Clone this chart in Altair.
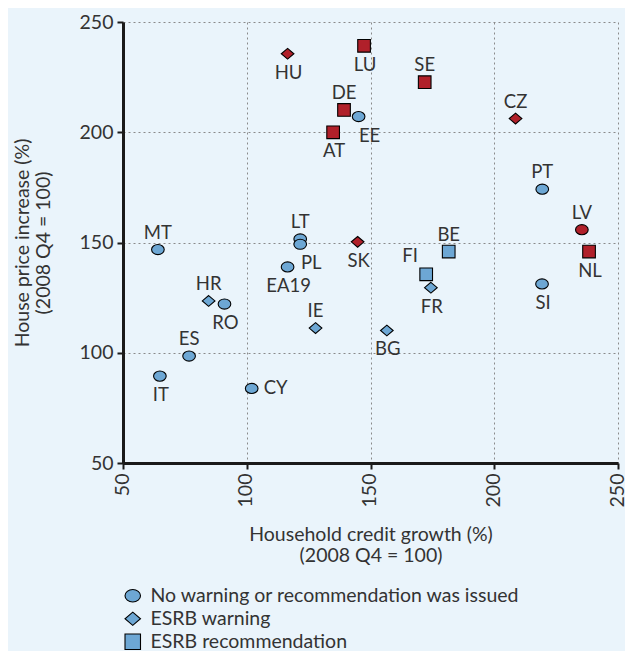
import altair as alt
import pandas as pd

countries = ["HU", "LU", "DE", "EE", "AT", "SE", "CZ", "PT", "LV", "NL", "SI", "BE", "FI",
             "FR", "SK", "LT", "PL", "EA19", "MT", "HR", "RO", "IE", "BG", "ES", "IT", "CY"]
credit_growth = [116.5, 147.4, 139.3, 145.2, 134.9, 171.9, 208.6, 219.4, 235.4, 238.3, 219.3, 181.6, 172.5,
                 174.4, 144.8, 121.6, 121.6, 116.5, 64.1, 84.6, 91.0, 127.8, 156.6, 76.7, 64.9, 102.0]
price_increase = [235.6, 239.2, 210.1, 207.1, 200.0, 222.7, 206.2, 174.2, 155.8, 145.9, 131.2, 145.9, 135.6,
                  129.5, 150.3, 151.6, 149.2, 138.9, 146.8, 123.5, 122.1, 111.2, 110.1, 98.5, 89.4, 83.8]
N = "No warning or recommendation was issued"
W = "ESRB warning"
R = "ESRB recommendation"
status = [W, R, R, N, R, R, W, N, N, R, N, R, R,
          W, W, N, N, N, N, W, N, W, W, N, N, N]
highlight = ["red", "red", "red", "blue", "red", "red", "red", "blue", "red", "red", "blue", "blue", "blue",
             "blue", "red", "blue", "blue", "blue", "blue", "blue", "blue", "blue", "blue", "blue", "blue", "blue"]
label_side = ["below", "below", "above", "below_right", "below", "above", "above", "above", "above", "below",
              "below", "above", "above_left", "below", "below", "above", "below_right", "below", "above",
              "above", "below", "above", "below", "above", "below", "right"]

df = pd.DataFrame({
    "country": countries,
    "credit": credit_growth,
    "price": price_increase,
    "status": status,
    "hl": highlight,
    "side": label_side,
})

FONT = "Lato"
TXT = "#333333"
BLUE = "#6DA7D4"
RED = "#B0202A"
BG = "#EAF4FB"
FS_AX = 19.5
FS_LB = 18.5

ellipse = "M-1,0 A1,0.8 0 1,0 1,0 A1,0.8 0 1,0 -1,0 Z"
diamond = "M0,-0.85 L1,0 L0,0.85 L-1,0 Z"
square = "M-1,-1 L1,-1 L1,1 L-1,1 Z"

xs = alt.Scale(domain=[50, 250], nice=False, zero=False)
ys = alt.Scale(domain=[50, 250], nice=False, zero=False)

base = alt.Chart(df)

points = base.mark_point(filled=True, stroke="black", strokeWidth=1.1, opacity=1, size=160).encode(
    x=alt.X("credit:Q", scale=xs,
            axis=alt.Axis(values=[50, 100, 150, 200, 250], labelAngle=270, labelAlign="right",
                          labelBaseline="middle", labelPadding=4, labelOffset=-1,
                          title=["Household credit growth (%)", "(2008 Q4 = 100)"],
                          titlePadding=19)),
    y=alt.Y("price:Q", scale=ys,
            axis=alt.Axis(values=[50, 100, 150, 200, 250], labelPadding=4,
                          title=["House price increase (%)", "(2008 Q4 = 100)"],
                          titlePadding=26)),
    fill=alt.Fill("hl:N", scale=alt.Scale(domain=["blue", "red"], range=[BLUE, RED]), legend=None),
    shape=alt.Shape("status:N",
                    scale=alt.Scale(domain=[N, W, R], range=[ellipse, diamond, square]),
                    legend=alt.Legend(title=None, orient="none", legendX=0, legendY=564,
                                      symbolFillColor=BLUE, symbolStrokeColor="black",
                                      symbolStrokeWidth=1.1, symbolSize=240, symbolOpacity=1,
                                      labelFont=FONT, labelFontSize=FS_AX, labelColor=TXT,
                                      labelLimit=0, rowPadding=2, padding=0, labelOffset=8)),
)

offsets = {
    "above": dict(dx=0, dy=-17, align="center"),
    "below": dict(dx=1, dy=19, align="center"),
    "below_right": dict(dx=11, dy=19, align="center"),
    "above_left": dict(dx=-16, dy=-18, align="center"),
    "right": dict(dx=12, dy=0, align="left"),
}

label_layers = []
for side, o in offsets.items():
    label_layers.append(
        base.transform_filter(alt.datum.side == side).mark_text(
            font=FONT, fontSize=FS_LB, color=TXT, baseline="middle",
            dx=o["dx"], dy=o["dy"], align=o["align"]
        ).encode(x=alt.X("credit:Q", scale=xs), y=alt.Y("price:Q", scale=ys), text="country:N")
    )

chart = alt.layer(points, *label_layers).properties(
    width=495, height=441,
    autosize=alt.AutoSizeParams(type="none"),
    padding={"left": 115, "top": 14, "right": 7, "bottom": 188},
    background=BG,
).configure_view(stroke=None).configure_axis(
    labelFont=FONT, labelFontSize=FS_AX, labelColor=TXT,
    titleFont=FONT, titleFontSize=FS_AX, titleColor=TXT, titleFontWeight="normal",
    titleLineHeight=21,
    domainColor="#1a1a1a", domainWidth=3,
    tickColor="#1a1a1a", tickWidth=2, tickSize=6,
    grid=True, gridColor="#8a8a8a", gridDash=[2, 3], gridWidth=1,
)

chart.save("out.html", embed_options={"renderer": "svg", "actions": False})
